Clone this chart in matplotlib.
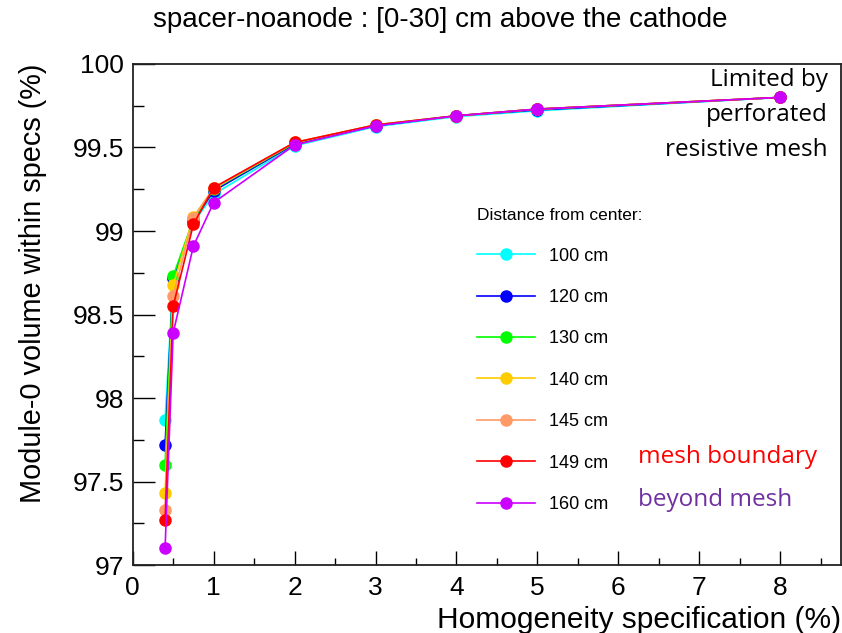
import matplotlib
matplotlib.use("Agg")
import matplotlib.pyplot as plt
from matplotlib.ticker import MultipleLocator

plt.rcParams['font.family'] = ['Liberation Sans', 'DejaVu Sans']

# homogeneity spec (%) and volume within specs (%) per distance from center
spec = [0.4, 0.5, 0.75, 1, 2, 3, 4, 5, 8]
d100 = [97.87, 98.71, 99.05, 99.22, 99.51, 99.625, 99.685, 99.72, 99.80]
d120 = [97.72, 98.72, 99.06, 99.24, 99.52, 99.63, 99.69, 99.725, 99.80]
d130 = [97.60, 98.73, 99.07, 99.25, 99.525, 99.635, 99.69, 99.73, 99.80]
d140 = [97.43, 98.675, 99.085, 99.255, 99.53, 99.635, 99.69, 99.73, 99.80]
d145 = [97.33, 98.61, 99.08, 99.255, 99.53, 99.635, 99.69, 99.73, 99.80]
d149 = [97.27, 98.55, 99.04, 99.26, 99.53, 99.635, 99.69, 99.73, 99.80]
d160 = [97.10, 98.39, 98.91, 99.17, 99.515, 99.63, 99.69, 99.73, 99.80]

series = [d100, d120, d130, d140, d145, d149, d160]
labels = ['100 cm', '120 cm', '130 cm', '140 cm', '145 cm', '149 cm', '160 cm']
colors = ['#00FFFF', '#0000FF', '#00FF00', '#FFCC00', '#FF9966', '#FF0000', '#CC00FF']

fig = plt.figure(figsize=(8.42, 6.33), dpi=100)
ax = fig.add_axes([0.1576, 0.1074, 0.8412, 0.7915])

for y, lab, c in zip(series, labels, colors):
    ax.plot(spec, y, color=c, lw=1.2, marker='o', ms=8, mec=c, mfc=c, label=lab)

ax.set_xlim(0, 8.75)
ax.set_ylim(97, 100)
ax.xaxis.set_major_locator(MultipleLocator(1))
ax.xaxis.set_minor_locator(MultipleLocator(0.5))
ax.yaxis.set_minor_locator(MultipleLocator(0.25))
ax.set_yticks([97, 97.5, 98, 98.5, 99, 99.5, 100])
ax.set_yticklabels(['97', '97.5', '98', '98.5', '99', '99.5', '100'])
ax.tick_params(axis='x', which='major', direction='in', length=10, width=1, labelsize=19, pad=8)
ax.tick_params(axis='x', which='minor', direction='in', length=5, width=1)
ax.tick_params(axis='y', which='major', direction='in', length=15.6, width=1, labelsize=19, pad=6)
ax.tick_params(axis='y', which='minor', direction='in', length=7.8, width=1)
for s in ax.spines.values():
    s.set_linewidth(1.3)
    s.set_color('#222222')

ax.set_xlabel('Homogeneity specification (%)', fontsize=21.5, loc='right', labelpad=4)
ax.set_ylabel('Module-0 volume within specs (%)', fontsize=20.8, loc='top', labelpad=19)
fig.text(0.523, 0.968, 'spacer-noanode : [0-30] cm above the cathode', fontsize=20,
         ha='center', va='center')

leg = ax.legend(loc='upper left', bbox_to_anchor=(0.566, 0.671), bbox_transform=fig.transFigure,
                frameon=False, fontsize=13, title='Distance from center:', title_fontsize=12.5,
                alignment='left', handlelength=3.25, handletextpad=0.75, labelspacing=1.35,
                borderpad=0, borderaxespad=0)
leg._legend_box.align = 'left'

note_lines = ['Limited by', 'perforated', 'resistive mesh']
for i, t in enumerate(note_lines):
    ax.text(0.9817, 0.968 - 0.07 * i, t, transform=ax.transAxes, ha='right', va='center',
            fontsize=17.5, family=['Open Sans', 'DejaVu Sans'])

ax.text(0.713, 0.215, 'mesh boundary', transform=ax.transAxes, ha='left', va='center',
        fontsize=17.5, color='#FF0000', family=['Open Sans', 'DejaVu Sans'])
ax.text(0.713, 0.13, 'beyond mesh', transform=ax.transAxes, ha='left', va='center',
        fontsize=17.5, color='#7030A0', family=['Open Sans', 'DejaVu Sans'])

fig.savefig('out.png', dpi=100)
